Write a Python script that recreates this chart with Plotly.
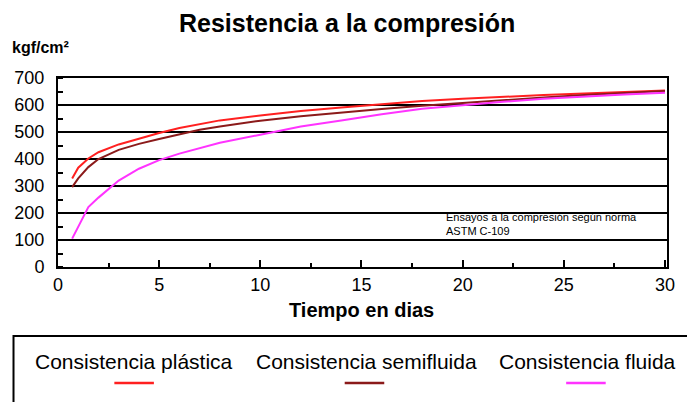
import plotly.graph_objects as go

dias = [0.7, 1, 1.5, 2, 3, 4, 5, 6, 7, 8, 10, 12, 14, 16, 18, 20, 22, 24, 26, 28, 30]
plastica = [328, 368, 402, 425, 454, 476, 496, 515, 530, 543, 561, 578, 591, 604, 615, 623, 631, 637, 643, 649, 654]
semifluida = [296, 328, 370, 400, 434, 456, 474, 492, 508, 520, 542, 558, 572, 585, 597, 608, 619, 628, 637, 645, 652]
fluida = [105, 150, 222, 257, 320, 364, 396, 420, 440, 460, 490, 520, 543, 566, 586, 600, 612, 623, 632, 639, 645]

names = ["Consistencia plástica", "Consistencia semifluida", "Consistencia fluida"]
colors = ["#ff2020", "#8b1a1a", "#ff33ff"]
series = [plastica, semifluida, fluida]

FONT = "Liberation Sans, Arial, sans-serif"

W, H = 687, 402
pl, pr, pt, pb = 58, 13, 78, 135
pw, ph = W - pl - pr, H - pt - pb


def px2paper(x, y):
    return (x - pl) / pw, (H - pb - y) / ph


fig = go.Figure()
for n, c, s in zip(names, colors, series):
    fig.add_trace(go.Scatter(x=dias, y=s, mode="lines", name=n,
                             line=dict(color=c, width=2), showlegend=False))

fig.update_layout(
    width=W, height=H,
    margin=dict(l=pl, r=pr, t=pt, b=pb),
    paper_bgcolor="white", plot_bgcolor="white",
    font=dict(family=FONT, color="black", size=18),
    xaxis=dict(range=[0, 30.1], tickvals=[0, 5, 10, 15, 20, 25, 30],
               ticks="inside", ticklen=7, tickwidth=2, tickcolor="black",
               showline=True, mirror=True, linecolor="black", linewidth=2,
               showgrid=False, zeroline=False, ticklabelstandoff=0,
               tickfont=dict(size=18),
               minor=dict(dtick=2.5, ticks="inside", ticklen=4, tickwidth=2,
                          tickcolor="black", showgrid=False)),
    yaxis=dict(range=[0, 700], tickvals=[0, 100, 200, 300, 400, 500, 600, 700],
               ticks="", showline=True, mirror=True, linecolor="black", linewidth=2,
               showgrid=True, gridcolor="black", gridwidth=1.5, zeroline=False,
               ticklabelstandoff=8, tickfont=dict(size=18),
               minor=dict(dtick=50, ticks="inside", ticklen=5, tickwidth=2,
                          tickcolor="black", showgrid=False)),
)

ann = []


def pxann(text, x, y, size, xanchor="center"):
    ax, ay = px2paper(x, y)
    ann.append(dict(text=text, x=ax, y=ay, xref="paper", yref="paper", showarrow=False,
                    xanchor=xanchor, yanchor="middle", font=dict(size=size)))


pxann("<b>Resistencia a la compresión</b>", 350, 23, 25)
pxann("<b>kgf/cm²</b>", 9, 48, 16, xanchor="left")
pxann("<b>Tiempo en dias</b>", 365, 310, 20)
ann.append(dict(text="Ensayos a la compresión según norma<br>ASTM C-109", x=19.1,
                y=(266.7 - 224) / 0.27, xref="x", yref="y", showarrow=False,
                xanchor="left", yanchor="middle", align="left", font=dict(size=11)))

# custom legend (text above sample line, boxed)
leg_text_x = [135, 370, 594]
leg_line = [(115, 155), (348, 388), (572, 612)]
shapes = []
x0, y0 = px2paper(13, 336)
x1, y1 = px2paper(720, 430)
shapes.append(dict(type="rect", xref="paper", yref="paper", x0=x0, y0=y0, x1=x1, y1=y1,
                   line=dict(color="black", width=2), fillcolor="rgba(0,0,0,0)"))
for n, c, tx, (la, lb) in zip(names, colors, leg_text_x, leg_line):
    pxann(n, tx, 361, 21)
    lx0, ly = px2paper(la, 383)
    lx1, _ = px2paper(lb, 383)
    shapes.append(dict(type="line", xref="paper", yref="paper", x0=lx0, x1=lx1, y0=ly, y1=ly,
                       line=dict(color=c, width=2.5)))

fig.update_layout(annotations=ann, shapes=shapes)
fig.write_html("out.html", config={"displayModeBar": False},
               post_script="document.body.style.margin='0px';")
